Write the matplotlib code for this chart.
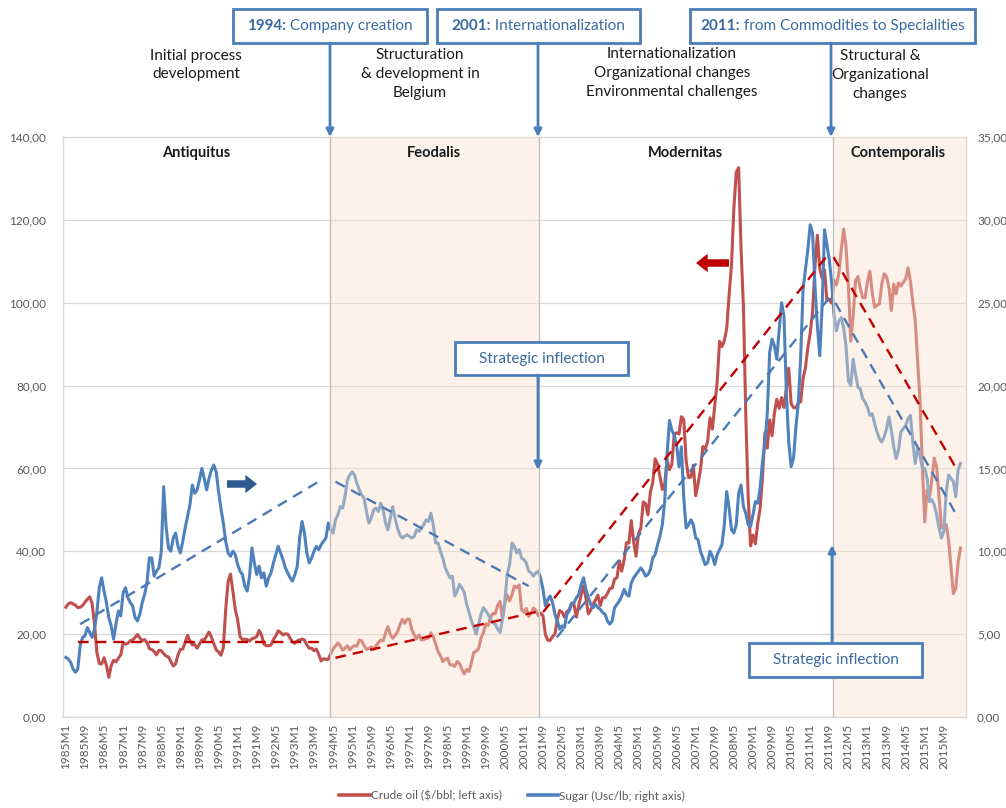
import numpy as np
import matplotlib
matplotlib.use("Agg")
import matplotlib.pyplot as plt
from matplotlib.patches import Rectangle, FancyArrowPatch
from matplotlib.lines import Line2D

plt.rcParams['font.family'] = ['Lato', 'DejaVu Sans']

# ---------------- data (monthly, 1985M1 .. 2016M4) ----------------
crude_oil = [
    26.5, 27.3, 27.6, 27.3, 27.0, 26.4, 26.5, 26.9, 27.7, 28.4, 29.0, 27.4,   # 1985
    22.5, 15.6, 12.9, 12.8, 14.3, 12.5, 9.6, 12.4, 13.7, 13.3, 14.2, 15.0,    # 1986
    17.9, 17.6, 17.8, 18.4, 18.6, 19.2, 19.9, 19.1, 18.4, 18.7, 18.0, 16.5,   # 1987
    16.3, 15.8, 15.0, 16.1, 16.0, 15.3, 14.7, 14.5, 13.4, 12.3, 12.8, 15.0,   # 1988
    16.3, 16.4, 18.0, 19.7, 18.4, 17.4, 17.5, 16.6, 17.6, 18.6, 18.6, 19.5,   # 1989
    20.5, 19.3, 17.7, 16.2, 15.7, 14.9, 16.7, 25.9, 32.7, 34.5, 30.4, 26.0,   # 1990
    23.5, 19.4, 18.7, 18.8, 18.7, 18.3, 18.9, 19.1, 19.4, 20.9, 19.8, 17.6,   # 1991
    17.2, 17.2, 17.4, 18.7, 19.6, 20.8, 20.4, 19.8, 20.1, 20.0, 19.0, 18.1,   # 1992
    17.8, 18.4, 18.6, 18.8, 18.6, 17.4, 16.6, 16.6, 16.0, 16.4, 15.1, 13.5,   # 1993
    14.1, 13.9, 13.9, 15.3, 16.4, 17.1, 17.9, 17.2, 16.1, 16.6, 17.2, 16.2,   # 1994
    16.9, 17.2, 17.1, 18.6, 18.4, 17.2, 16.3, 16.6, 16.9, 16.3, 17.2, 17.9,   # 1995
    18.6, 18.4, 20.3, 21.8, 19.9, 19.0, 19.7, 20.5, 22.2, 23.6, 22.6, 23.6,   # 1996
    23.6, 21.1, 19.8, 18.9, 19.8, 18.6, 18.7, 19.0, 19.0, 20.3, 19.4, 17.6,   # 1997
    15.8, 14.8, 13.4, 13.9, 14.2, 12.6, 12.6, 12.2, 13.4, 12.9, 11.5, 10.4,   # 1998
    11.5, 11.0, 13.2, 15.6, 15.9, 16.5, 19.1, 20.3, 22.5, 22.1, 24.0, 25.0,   # 1999
    24.9, 27.0, 27.9, 23.6, 27.4, 29.4, 28.0, 29.5, 31.6, 31.2, 31.9, 25.9,   # 2000
    25.3, 26.2, 24.3, 25.1, 26.3, 25.7, 24.5, 25.1, 24.4, 19.9, 18.5, 18.5,   # 2001
    19.4, 20.0, 23.6, 25.7, 25.3, 24.1, 25.4, 25.9, 27.5, 27.1, 24.1, 27.0,   # 2002
    29.5, 31.6, 28.7, 24.9, 25.8, 27.3, 28.2, 29.4, 26.9, 28.8, 28.8, 29.8,   # 2003
    31.0, 31.1, 33.3, 33.6, 37.7, 35.2, 37.9, 42.1, 42.0, 47.4, 42.3, 38.8,   # 2004
    44.2, 45.6, 51.9, 51.5, 48.8, 54.3, 56.6, 62.3, 61.1, 58.1, 54.9, 56.3,   # 2005
    62.0, 59.7, 60.9, 68.3, 68.6, 68.3, 72.5, 71.8, 61.8, 57.8, 57.9, 60.8,   # 2006
    53.4, 56.3, 59.7, 65.3, 64.6, 66.6, 72.2, 69.5, 75.1, 80.9, 90.7, 89.4,   # 2007
    90.8, 93.8, 101.8, 109.1, 122.8, 131.5, 132.6, 113.2, 99.2, 72.8, 53.2, 41.3,  # 2008
    43.9, 41.8, 46.7, 50.3, 58.0, 68.6, 64.9, 71.7, 67.9, 73.4, 76.7, 74.5,   # 2009
    77.1, 74.7, 79.3, 84.2, 75.6, 74.7, 74.6, 75.8, 76.1, 81.7, 84.3, 89.2,   # 2010
    92.7, 97.9, 108.7, 116.3, 108.2, 105.9, 107.9, 100.5, 100.8, 99.9, 105.4, 104.3,  # 2011
    107.1, 112.7, 117.8, 113.7, 104.1, 90.7, 96.8, 105.3, 106.3, 103.4, 101.2, 101.2,  # 2012
    105.1, 107.6, 102.5, 98.9, 99.4, 99.7, 104.5, 107.0, 106.3, 103.7, 98.1, 104.5,   # 2013
    102.1, 104.8, 104.0, 104.9, 105.7, 108.4, 105.2, 100.1, 95.9, 86.1, 76.9, 60.7,   # 2014
    47.1, 54.8, 52.8, 57.5, 62.5, 60.2, 53.3, 45.7, 46.3, 46.4, 42.7, 36.1,   # 2015
    29.8, 31.0, 37.3, 40.8,                                                   # 2016
]

sugar = [
    3.6, 3.5, 3.3, 2.9, 2.7, 2.9, 4.3, 4.8, 4.9, 5.4, 5.1, 4.8,        # 1985
    5.3, 6.3, 7.8, 8.4, 7.6, 6.9, 6.0, 5.5, 4.7, 5.6, 6.4, 6.1,        # 1986
    7.5, 7.8, 7.2, 6.9, 6.7, 6.0, 5.8, 6.2, 6.9, 7.4, 8.1, 9.6,        # 1987
    9.6, 8.5, 8.8, 9.0, 10.0, 13.9, 11.5, 10.2, 10.0, 10.8, 11.1, 10.3,  # 1988
    9.9, 10.6, 11.4, 12.1, 12.8, 14.0, 13.5, 13.7, 14.3, 15.0, 14.4, 13.7,  # 1989
    14.4, 14.9, 15.2, 14.8, 13.6, 12.6, 11.7, 10.6, 9.9, 9.7, 10.0, 9.8,  # 1990
    9.2, 8.8, 8.6, 7.9, 7.6, 8.5, 10.2, 9.3, 8.6, 9.1, 8.4, 8.7,       # 1991
    7.9, 8.4, 8.7, 9.3, 9.8, 10.3, 9.9, 9.5, 9.0, 8.7, 8.4, 8.2,       # 1992
    8.6, 9.1, 10.8, 11.8, 11.1, 9.9, 9.3, 9.6, 10.0, 10.3, 10.1, 10.4, # 1993
    10.6, 10.8, 11.7, 11.3, 11.1, 11.9, 12.2, 12.7, 12.6, 13.3, 14.3, 14.6,  # 1994
    14.8, 14.6, 14.1, 13.7, 13.4, 13.2, 12.4, 11.7, 12.0, 12.5, 12.6, 12.4,  # 1995
    12.9, 12.5, 11.7, 11.3, 12.0, 12.7, 12.0, 11.4, 11.0, 10.8, 10.9, 11.0,  # 1996
    10.9, 10.8, 10.9, 11.3, 11.2, 11.4, 11.6, 11.9, 11.8, 12.3, 11.6, 10.5,  # 1997
    10.5, 10.0, 9.6, 9.0, 8.7, 8.4, 8.5, 7.3, 7.6, 8.0, 7.8, 7.5,      # 1998
    6.8, 6.3, 5.8, 5.4, 5.0, 5.6, 6.2, 6.6, 6.4, 6.2, 5.9, 5.7,        # 1999
    5.6, 5.3, 5.1, 5.9, 7.0, 8.6, 9.2, 10.5, 10.3, 9.9, 10.1, 9.6,     # 2000
    9.5, 9.3, 8.8, 8.7, 8.5, 8.7, 8.8, 8.4, 7.7, 6.7, 7.1, 7.3,        # 2001
    6.9, 6.2, 5.8, 5.3, 5.5, 5.4, 6.2, 6.4, 6.8, 6.9, 7.2, 7.4,        # 2002
    8.0, 8.4, 7.7, 7.2, 6.8, 6.6, 6.8, 6.6, 6.5, 6.3, 6.2, 5.8,        # 2003
    5.6, 5.8, 6.6, 6.8, 7.0, 7.3, 7.7, 7.4, 7.3, 8.1, 8.4, 8.6,        # 2004
    8.8, 9.0, 8.8, 8.5, 8.6, 8.9, 9.6, 9.8, 10.4, 10.9, 11.6, 13.0,    # 2005
    15.8, 17.9, 17.3, 17.0, 16.4, 15.1, 16.3, 13.2, 11.4, 11.6, 11.9, 11.6,  # 2006
    10.8, 10.7, 10.0, 9.6, 9.2, 9.3, 10.0, 9.7, 9.2, 9.8, 10.1, 10.4,  # 2007
    11.6, 13.6, 12.6, 11.3, 11.1, 11.6, 13.5, 14.0, 12.7, 12.3, 11.6, 11.5,  # 2008
    12.2, 13.0, 12.9, 13.8, 15.4, 16.5, 18.3, 22.0, 22.8, 22.4, 21.6, 23.4,  # 2009
    25.0, 24.2, 19.6, 16.6, 15.1, 15.6, 17.5, 18.9, 21.7, 25.8, 27.0, 28.2,  # 2010
    29.7, 29.2, 26.0, 23.6, 21.8, 24.8, 29.4, 28.5, 27.6, 26.2, 24.2, 23.3,  # 2011
    23.9, 24.1, 23.5, 22.4, 20.3, 20.0, 21.6, 20.7, 19.9, 19.8, 19.2, 19.0,  # 2012
    18.7, 18.2, 18.3, 17.7, 17.2, 16.8, 16.6, 16.9, 17.4, 18.1, 17.3, 16.3,  # 2013
    15.6, 16.1, 17.2, 17.4, 17.6, 18.0, 18.2, 16.6, 15.3, 16.2, 15.8, 15.0,  # 2014
    15.0, 14.4, 13.0, 13.1, 12.8, 12.2, 11.4, 10.8, 11.2, 13.6, 14.6, 14.4,  # 2015
    14.2, 13.3, 14.9, 15.3,                                             # 2016
]

month_labels = [f"{yr}M{m}" for yr in range(1985, 2017) for m in range(1, 13)][:len(crude_oil)]

# trend lines (position in month index, value)
oil_trend_flat_x = [5.1, 109.2]
oil_trend_flat_y = [18.0, 18.0]
oil_trend_up_x = [113.0, 198.2, 200.3, 320.0]
oil_trend_up_y = [14.3, 25.5, 25.5, 112.0]
oil_trend_down_x = [321.8, 373.4]
oil_trend_down_y = [111.0, 59.8]

sugar_trend_x1 = [6.0, 105.9]
sugar_trend_y1 = [5.6, 14.2]
sugar_trend_x2 = [113.0, 194.0]
sugar_trend_y2 = [14.2, 7.9]
sugar_trend_x3 = [205.8, 320.0]
sugar_trend_y3 = [4.8, 25.3]
sugar_trend_x4 = [322.5, 374.1]
sugar_trend_y4 = [25.0, 12.0]

period_names = ["Antiquitus", "Feodalis", "Modernitas", "Contemporalis"]
period_bounds = [110.9, 198.2, 321.6]   # divider positions (month index)

legend_labels = ["Crude oil ($/bbl; left axis)", "Sugar (Usc/lb; right axis)"]

# ---------------- styling ----------------
W, H = 1006, 808
def fx(x): return x / W
def fy(y): return 1 - y / H

OIL = '#C0504D'
SUG = '#4F81BD'
OIL_TR = '#C00000'
SUG_TR = '#4A7AB5'
BOX = '#4A7DBA'
BOXTXT = '#3A6AA0'
GREY = '#595959'
OVER = '#F8E1CD'

fig = plt.figure(figsize=(W / 100, H / 100), dpi=100)
fig.patch.set_facecolor('white')

ax = fig.add_axes([fx(63), fy(717), (966 - 63) / W, (717 - 137) / H])
ax2 = ax.twinx()

x = np.arange(len(crude_oil))
XL = (-1.2, 377.3)

ax.plot(x, crude_oil, color=OIL, lw=2.2, zorder=3, solid_joinstyle='round')
ax2.plot(x, sugar, color=SUG, lw=2.2, zorder=3, solid_joinstyle='round')

# shaded periods (translucent overlay above series)
for a, b in [(period_bounds[0], period_bounds[1]), (period_bounds[2], XL[1])]:
    ax2.axvspan(a, b, color=OVER, alpha=0.42, lw=0, zorder=5)
for b in period_bounds:
    ax2.axvline(b, color='#BFBFBF', lw=1.0, zorder=6)

# trend lines
dash = (0, (4.5, 3))
for xs, ys in [(oil_trend_flat_x, oil_trend_flat_y),
               (oil_trend_up_x, oil_trend_up_y),
               (oil_trend_down_x, oil_trend_down_y)]:
    ax2.plot(xs, ys, transform=ax.transData, color=OIL_TR, lw=1.7,
             linestyle=dash, zorder=7)
for xs, ys in [(sugar_trend_x1, sugar_trend_y1), (sugar_trend_x2, sugar_trend_y2),
               (sugar_trend_x3, sugar_trend_y3), (sugar_trend_x4, sugar_trend_y4)]:
    ax2.plot(xs, ys, color=SUG_TR, lw=1.7, linestyle=dash, zorder=7)

ax.set_xlim(*XL)
ax2.set_xlim(*XL)
ax.set_ylim(0, 140)
ax2.set_ylim(0, 35)

ax.set_yticks(np.arange(0, 141, 20))
ax.set_yticklabels([f"{v:.2f}".replace('.', ',') for v in np.arange(0, 141, 20)])
ax2.set_yticks(np.arange(0, 36, 5))
ax2.set_yticklabels([f"{v:.2f}".replace('.', ',') for v in np.arange(0, 36, 5)])
tick_pos = list(range(0, len(crude_oil), 8))
ax.set_xticks(tick_pos)
ax.set_xticklabels([month_labels[i] for i in tick_pos], rotation=90)

ax.tick_params(axis='y', length=0, labelsize=8.5, labelcolor=GREY, pad=12)
ax2.tick_params(axis='y', length=0, labelsize=8.5, labelcolor=GREY, pad=8)
ax.tick_params(axis='x', length=0, labelsize=8.5, labelcolor=GREY, pad=5)

ax.yaxis.grid(True, color='#D9D9D9', lw=0.9, zorder=0)
ax.set_axisbelow(True)
for sp in ax.spines.values():
    sp.set_color('#D9D9D9')
    sp.set_linewidth(1.0)
for sp in ax2.spines.values():
    sp.set_visible(False)

# period titles
for name, px in zip(period_names, [196, 434, 685, 898]):
    fig.text(fx(px), fy(153), name, ha='center', va='center', fontsize=10.5,
             fontweight='bold', color='#1A1A1A')

# phase descriptions
descs = [
    ("Initial process\ndevelopment", 196, 65),
    ("Structuration\n& development in\nBelgium", 420, 74),
    ("Internationalization\nOrganizational changes\nEnvironmental challenges", 672, 73),
    ("Structural &\nOrganizational\nchanges", 880, 75),
]
for txt, px, py in descs:
    fig.text(fx(px), fy(py), txt, ha='center', va='center', fontsize=11,
             color='#1A1A1A', linespacing=1.45)

renderer = fig.canvas.get_renderer()

def box(x0, x1, y0, y1):
    fig.add_artist(Rectangle((fx(x0), fy(y1)), (x1 - x0) / W, (y1 - y0) / H,
                             transform=fig.transFigure, facecolor='white',
                             edgecolor=BOX, lw=2.0, zorder=10))

def box_text(x0, x1, y0, y1, bold, normal, size=11):
    box(x0, x1, y0, y1)
    cx, cy = (x0 + x1) / 2, (y0 + y1) / 2
    parts = []
    if bold:
        parts.append(fig.text(0, 0, bold, fontsize=size, fontweight='bold',
                              color=BOXTXT, ha='left', va='center', zorder=11))
    parts.append(fig.text(0, 0, normal, fontsize=size, color=BOXTXT,
                          ha='left', va='center', zorder=11))
    widths = [p.get_window_extent(renderer).width for p in parts]
    start = cx - sum(widths) / 2
    for p, w in zip(parts, widths):
        p.set_position((fx(start), fy(cy)))
        start += w

def arrow(x0, y0, x1, y1):
    fig.add_artist(FancyArrowPatch((fx(x0), fy(y0)), (fx(x1), fy(y1)),
                                   transform=fig.transFigure, arrowstyle='-|>',
                                   mutation_scale=11, lw=2.0, color=BOX,
                                   shrinkA=0, shrinkB=0, zorder=10))

box_text(233, 427, 9, 43, "1994:", " Company creation")
arrow(330, 43, 330, 137)
box_text(437, 640, 9, 43, "2001:", " Internationalization")
arrow(538, 43, 538, 137)
box_text(690, 975, 9, 43, "2011:", " from Commodities to Specialities")
arrow(831, 43, 831, 137)
box_text(455, 628, 342, 375, "", "Strategic inflection")
arrow(538, 375, 538, 470)
box_text(749, 922, 643, 677, "", "Strategic inflection")
arrow(832, 643, 832, 545)

# axis-indicator arrows
fig.add_artist(FancyArrowPatch((fx(227), fy(484)), (fx(257), fy(484)),
                               transform=fig.transFigure,
                               arrowstyle='simple,head_length=0.7,head_width=1.1,tail_width=0.45',
                               mutation_scale=12, color='#2E5A8E', lw=0,
                               shrinkA=0, shrinkB=0, zorder=10))
fig.add_artist(FancyArrowPatch((fx(729), fy(263)), (fx(696), fy(263)),
                               transform=fig.transFigure,
                               arrowstyle='simple,head_length=0.7,head_width=1.1,tail_width=0.45',
                               mutation_scale=12, color='#C00000', lw=0,
                               shrinkA=0, shrinkB=0, zorder=10))

# legend
handles = [Line2D([], [], color=OIL, lw=2.6), Line2D([], [], color=SUG, lw=2.6)]
fig.legend(handles, legend_labels, loc='center', bbox_to_anchor=(fx(512), fy(796)),
           ncol=2, frameon=False, fontsize=8.5, handlelength=2.6,
           handletextpad=0.1, columnspacing=2.2, labelcolor=GREY)

fig.savefig('out.png', dpi=100, facecolor='white')
